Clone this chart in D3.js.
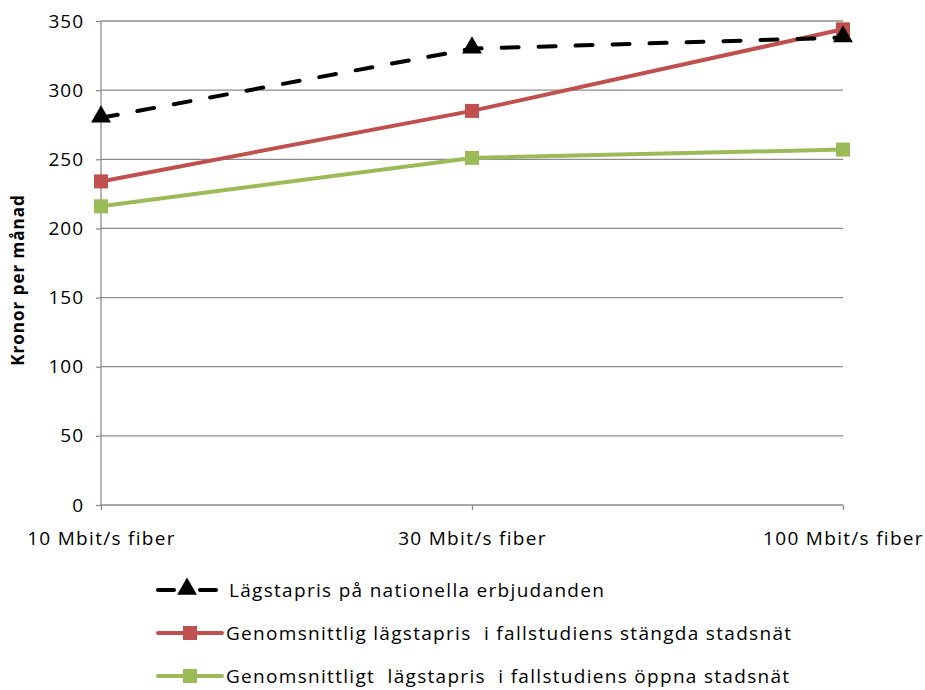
<!DOCTYPE html>
<html>
<head>
<meta charset="utf-8">
<script src="https://cdn.jsdelivr.net/npm/d3@7"></script>
<style>
  body { margin: 0; background: #fff; }
  svg { font-family: "Open Sans", "Liberation Sans", sans-serif; }
</style>
</head>
<body>
<div id="chart"></div>
<script>
const categories = ["10 Mbit/s fiber", "30 Mbit/s fiber", "100 Mbit/s fiber"];
const nationalLow = [280, 330, 338];
const closedNets = [234, 285, 344];
const openNets = [216, 251, 257];
const yTicks = [0, 50, 100, 150, 200, 250, 300, 350];

const series = [
  { name: "Lägstapris på nationella erbjudanden", values: nationalLow, color: "#000000", dash: "17,20", marker: "triangle" },
  { name: "Genomsnittlig lägstapris  i fallstudiens stängda stadsnät", values: closedNets, color: "#C0504D", dash: null, marker: "square" },
  { name: "Genomsnittligt  lägstapris  i fallstudiens öppna stadsnät", values: openNets, color: "#9BBB59", dash: null, marker: "square" }
];

const width = 925, height = 690;
const plotLeft = 101, plotRight = 843, plotTop = 21, plotBottom = 505;

const svg = d3.select("#chart").append("svg")
  .attr("width", width)
  .attr("height", height);

const x = d3.scalePoint().domain(categories).range([plotLeft, plotRight]);
const y = d3.scaleLinear().domain([0, 350]).range([plotBottom, plotTop]);

// gridlines
svg.append("g")
  .selectAll("line")
  .data(yTicks.filter(d => d > 0))
  .enter().append("line")
  .attr("x1", plotLeft).attr("x2", plotRight)
  .attr("y1", d => y(d)).attr("y2", d => y(d))
  .attr("stroke", "#8c8c8c").attr("stroke-width", 1.3);

// y axis
const yAxis = svg.append("g")
  .attr("transform", `translate(${plotLeft},0)`)
  .call(d3.axisLeft(y).tickValues(yTicks).tickSize(5).tickPadding(12));
yAxis.select(".domain").attr("stroke", "#8c8c8c").attr("stroke-width", 1.3).attr("d", `M0,${plotTop}V${plotBottom}`);
yAxis.selectAll(".tick line").attr("stroke", "#8c8c8c").attr("stroke-width", 1.3);
yAxis.selectAll(".tick text").attr("font-size", "19px").attr("fill", "#000")
  .attr("font-family", "Open Sans, sans-serif").attr("letter-spacing", "1px");

// x axis
const xAxis = svg.append("g")
  .attr("transform", `translate(0,${plotBottom})`)
  .call(d3.axisBottom(x).tickSize(5).tickPadding(22));
xAxis.select(".domain").attr("stroke", "#8c8c8c").attr("stroke-width", 1.3).attr("d", `M${plotLeft},0H${plotRight}`);
xAxis.selectAll(".tick line").attr("stroke", "#8c8c8c").attr("stroke-width", 1.3);
xAxis.selectAll(".tick text").attr("font-size", "19px").attr("fill", "#000")
  .attr("font-family", "Open Sans, sans-serif").attr("letter-spacing", "1.3px");

// y label
svg.append("text")
  .attr("transform", `translate(24,${(plotTop + plotBottom) / 2 + 17}) rotate(-90)`)
  .attr("text-anchor", "middle")
  .attr("font-size", "17px")
  .attr("font-weight", "bold")
  .attr("letter-spacing", "1px")
  .text("Kronor per månad");

const line = d3.line()
  .x((d, i) => x(categories[i]))
  .y(d => y(d));

const tri = d3.symbol().type(d3.symbolTriangle).size(170);

function drawMarker(g, type, cx, cy, color) {
  if (type === "triangle") {
    g.append("path").attr("d", tri()).attr("transform", `translate(${cx},${cy - 1})`).attr("fill", color);
  } else {
    g.append("rect").attr("x", cx - 7).attr("y", cy - 7).attr("width", 14).attr("height", 14).attr("fill", color);
  }
}

series.slice().reverse().forEach(s => {
  const g = svg.append("g");
  g.append("path")
    .attr("d", line(s.values))
    .attr("fill", "none")
    .attr("stroke", s.color)
    .attr("stroke-width", 4)
    .attr("stroke-dasharray", s.dash)
    .attr("stroke-linecap", s.dash ? "round" : "butt");
  s.values.forEach((v, i) => drawMarker(g, s.marker, x(categories[i]), y(v), s.color));
});

// legend
const legend = svg.append("g");
series.forEach((s, i) => {
  const ly = 590 + i * 43;
  const g = legend.append("g");
  if (s.dash) {
    g.append("line").attr("x1", 158).attr("x2", 174).attr("y1", ly).attr("y2", ly)
      .attr("stroke", s.color).attr("stroke-width", 4).attr("stroke-linecap", "round");
    g.append("line").attr("x1", 200).attr("x2", 216).attr("y1", ly).attr("y2", ly)
      .attr("stroke", s.color).attr("stroke-width", 4).attr("stroke-linecap", "round");
    drawMarker(g, s.marker, 187, ly, s.color);
  } else {
    g.append("line").attr("x1", 158).attr("x2", 222).attr("y1", ly).attr("y2", ly)
      .attr("stroke", s.color).attr("stroke-width", 4).attr("stroke-linecap", "round");
    drawMarker(g, s.marker, 190, ly, s.color);
  }
  g.append("text")
    .attr("x", s.dash ? 229 : 226)
    .attr("y", ly + 7)
    .attr("font-size", "19px")
    .attr("letter-spacing", "1.3px")
    .style("white-space", "pre")
    .text(s.name);
});
</script>
</body>
</html>
